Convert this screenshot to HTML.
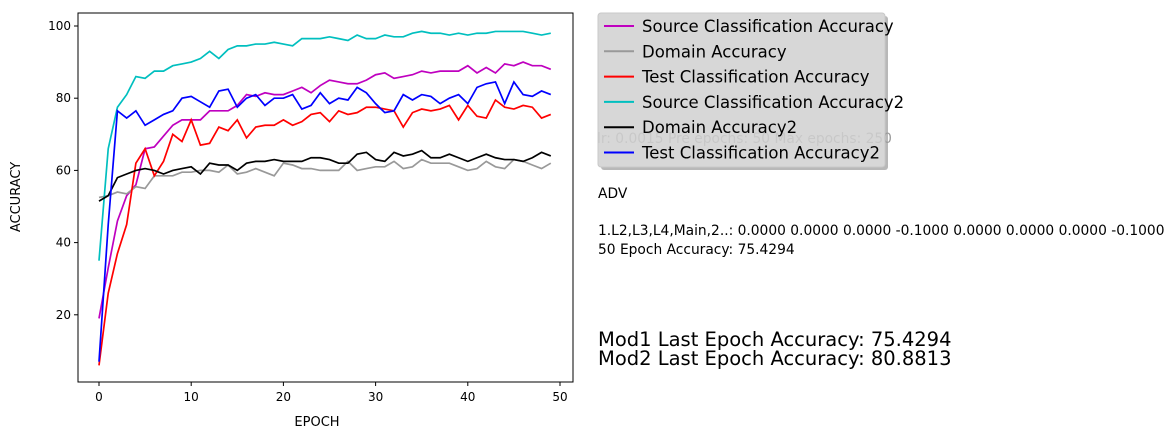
<!DOCTYPE html>
<html><head><meta charset="utf-8"><style>
body{margin:0;background:#fff;width:1173px;height:439px;overflow:hidden;font-family:"Liberation Sans","DejaVu Sans",sans-serif}
svg text{font-family:"DejaVu Sans","Liberation Sans",sans-serif}
</style></head><body>
<svg id="c" width="1173" height="439" xmlns="http://www.w3.org/2000/svg">
<rect x="78" y="13" width="495" height="369" fill="none" stroke="#000" stroke-width="1"/>
<g id="marks"></g>
<g id="axes"></g>
<text x="317" y="426" font-size="13" text-anchor="middle">EPOCH</text>
<text x="20" y="197" font-size="13" text-anchor="middle" transform="rotate(-90 20 197)">ACCURACY</text>
<g id="legend">
<rect x="601" y="16" width="287" height="154" rx="3" fill="#888" opacity="0.6"/>
<rect x="598" y="13" width="287" height="154" rx="3" fill="#fff"/>
</g>
<text x="597" y="143" font-size="13.8" fill="#999">lr: 0.0015 Pre epochs: 50 Max epochs: 250</text>
<rect x="598" y="13" width="287" height="154" rx="3" fill="#d0d0d0" fill-opacity="0.85" stroke="#c8c8c8"/>
<g id="legendEntries"></g>
<text x="598" y="198" font-size="13.8">ADV</text>
<text x="598" y="235" font-size="13.8">1.L2,L3,L4,Main,2..: 0.0000 0.0000 0.0000 -0.1000 0.0000 0.0000 0.0000 -0.1000</text>
<text x="598" y="254" font-size="13.8">50 Epoch Accuracy: 75.4294</text>
<text x="598" y="346" font-size="19.5">Mod1 Last Epoch Accuracy: 75.4294</text>
<text x="598" y="365" font-size="19.5">Mod2 Last Epoch Accuracy: 80.8813</text>
</svg>
<script>
const seriesNames=["Source Classification Accuracy","Domain Accuracy","Test Classification Accuracy","Source Classification Accuracy2","Domain Accuracy2","Test Classification Accuracy2"];
const seriesColors=["#bf00bf","#999999","#ff0000","#00bfbf","#000000","#0000ff"];
const srcAcc=[19,33,46,53,56,66,66.5,69.5,72.5,74,74,74,76.5,76.5,76.5,78,81,80.5,81.5,81,81,82,83,81.5,83.5,85,84.5,84,84,85,86.5,87,85.5,86,86.5,87.5,87,87.5,87.5,87.5,89,87,88.5,87,89.5,89,90,89,89,88];
const domAcc=[52.5,53,54,53.5,55.5,55,58.5,58.5,58.5,59.5,59.5,60,60,59.5,61.5,59,59.5,60.5,59.5,58.5,62,61.5,60.5,60.5,60,60,60,62.5,60,60.5,61,61,62.5,60.5,61,63,62,62,62,61,60,60.5,62.5,61,60.5,63,62.5,61.5,60.5,62];
const testAcc=[6,26,37,45,62,66,58.5,62.5,70,68,74,67,67.5,72,71,74,69,72,72.5,72.5,74,72.5,73.5,75.5,76,73.5,76.5,75.5,76,77.5,77.5,77,76.5,72,76,77,76.5,77,78,74,78,75,74.5,79.5,77.5,77,78,77.5,74.5,75.5];
const srcAcc2=[35,66,77.5,81,86,85.5,87.5,87.5,89,89.5,90,91,93,91,93.5,94.5,94.5,95,95,95.5,95,94.5,96.5,96.5,96.5,97,96.5,96,97.5,96.5,96.5,97.5,97,97,98,98.5,98,98,97.5,98,97.5,98,98,98.5,98.5,98.5,98.5,98,97.5,98];
const domAcc2=[51.5,53,58,59,60,60.5,60,59,60,60.5,61,59,62,61.5,61.5,60,62,62.5,62.5,63,62.5,62.5,62.5,63.5,63.5,63,62,62,64.5,65,63,62.5,65,64,64.5,65.5,63.5,63.5,64.5,63.5,62.5,63.5,64.5,63.5,63,63,62.5,63.5,65,64];
const testAcc2=[7,45,76.5,74.5,76.5,72.5,74,75.5,76.5,80,80.5,79,77.5,82,82.5,77.5,80,81,78,80,80,81,77,78,81.5,78.5,80,79.5,83,81.5,78.5,76,76.5,81,79.5,81,80.5,78.5,80,81,78.5,83,84,84.5,78.5,84.5,81,80.5,82,81];
const xTicks=[0,10,20,30,40,50];
const yTicks=[20,40,60,80,100];
const NS="http://www.w3.org/2000/svg";
const xs=v=>99+v*9.22;
const ys=v=>387-v*3.61;
const allSeries=[srcAcc,domAcc,testAcc,srcAcc2,domAcc2,testAcc2];
const marks=document.getElementById('marks');
allSeries.forEach((s,i)=>{
  const p=document.createElementNS(NS,'polyline');
  p.setAttribute('points',s.map((v,k)=>xs(k)+','+ys(v)).join(' '));
  p.setAttribute('fill','none');p.setAttribute('stroke',seriesColors[i]);p.setAttribute('stroke-width','1.7');
  
  
  marks.appendChild(p);
});
const axes=document.getElementById('axes');
xTicks.forEach(t=>{
  const l=document.createElementNS(NS,'line');
  l.setAttribute('x1',xs(t));l.setAttribute('x2',xs(t));l.setAttribute('y1',382);l.setAttribute('y2',386);l.setAttribute('stroke','#000');
  
  
  axes.appendChild(l);
  const tx=document.createElementNS(NS,'text');
  tx.setAttribute('x',xs(t));tx.setAttribute('y',401);tx.setAttribute('font-size','12');tx.setAttribute('text-anchor','middle');tx.textContent=t;
  
  
  axes.appendChild(tx);
});
yTicks.forEach(t=>{
  const l=document.createElementNS(NS,'line');
  l.setAttribute('x1',74);l.setAttribute('x2',78);l.setAttribute('y1',ys(t));l.setAttribute('y2',ys(t));l.setAttribute('stroke','#000');
  
  
  axes.appendChild(l);
  const tx=document.createElementNS(NS,'text');
  tx.setAttribute('x',71);tx.setAttribute('y',ys(t)+4);tx.setAttribute('font-size','12');tx.setAttribute('text-anchor','end');tx.textContent=t;
  
  
  axes.appendChild(tx);
});
const lg=document.getElementById('legendEntries');
seriesNames.forEach((n,i)=>{
  const y=26+i*25.3;
  const l=document.createElementNS(NS,'line');
  l.setAttribute('x1',604);l.setAttribute('x2',634);l.setAttribute('y1',y);l.setAttribute('y2',y);l.setAttribute('stroke',seriesColors[i]);l.setAttribute('stroke-width','2');
  
  
  lg.appendChild(l);
  const tx=document.createElementNS(NS,'text');
  tx.setAttribute('x',642);tx.setAttribute('y',y+6);tx.setAttribute('font-size','16.5');tx.textContent=n;
  
  
  lg.appendChild(tx);
});
</script>
</body></html>
